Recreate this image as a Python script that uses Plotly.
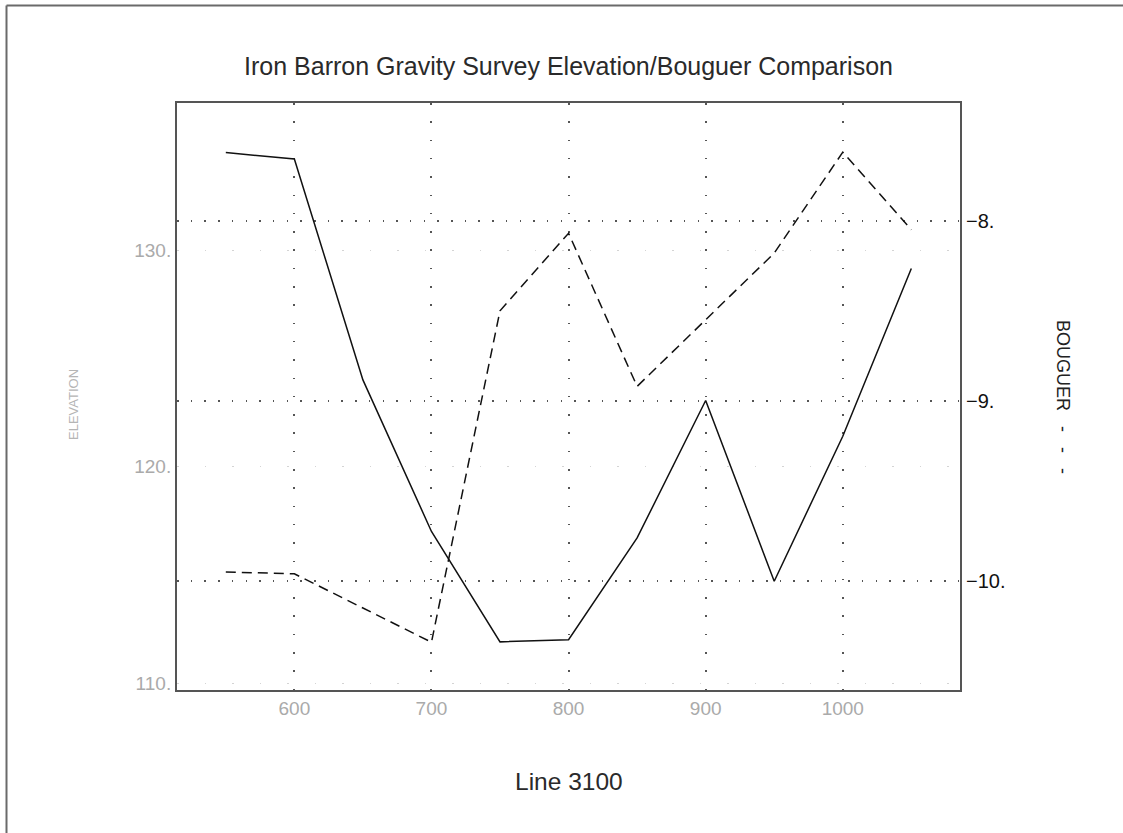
import plotly.graph_objects as go

# ---- data ----
line_pos = [550, 600, 650, 700, 750, 800, 850, 900, 950, 1000, 1050]
elevation = [134.5, 134.2, 124.0, 117.0, 111.9, 112.0, 116.7, 123.05, 114.7, 121.4, 129.15]
bouguer = [-9.95, -9.96, -10.15, -10.34, -8.50, -8.07, -8.92, -8.55, -8.18, -7.62, -8.05]

x_ticks = [600, 700, 800, 900, 1000]
x_ticklabels = ["600", "700", "800", "900", "1000"]
elev_ticks = [110, 120, 130]
elev_ticklabels = ["110.", "120.", "130."]
boug_ticks = [-10, -9, -8]
boug_ticklabels = ["\u221210.", "\u22129.", "\u22128."]

FONT = "Liberation Sans, Arial, sans-serif"
W, H = 1123, 833
ML, MR, MT, MB = 177, 163, 103, 143
PW, PH = W - ML - MR, H - MT - MB


def px2paper_x(px):
    return (px - ML) / PW


def px2paper_y(py):
    return (H - MB - py) / PH


fig = go.Figure()
fig.add_trace(go.Scatter(
    x=line_pos, y=elevation, mode="lines", name="ELEVATION",
    line=dict(color="#111111", width=1.5), yaxis="y",
))
fig.add_trace(go.Scatter(
    x=line_pos, y=bouguer, mode="lines", name="BOUGUER",
    line=dict(color="#111111", width=1.5, dash="10px,6px"), yaxis="y2",
))

fig.update_layout(
    width=W, height=H, autosize=False,
    margin=dict(l=ML, r=MR, t=MT, b=MB, pad=0),
    paper_bgcolor="white", plot_bgcolor="white",
    showlegend=False,
    font=dict(family=FONT, color="#222222"),
    title=dict(
        text="Iron Barron Gravity Survey Elevation/Bouguer Comparison",
        x=0.5, xref="paper", xanchor="center",
        y=1 - 66 / H, yref="container", yanchor="middle",
        font=dict(family=FONT, size=25, color="#2a2a2a"),
    ),
    xaxis=dict(
        range=[514.4, 1085.5],
        tickvals=x_ticks, ticktext=x_ticklabels,
        tickfont=dict(family=FONT, size=19, color="#aaaaaa"),
        ticks="", showline=True, linecolor="#555555", linewidth=2, mirror=True,
        showgrid=True, gridcolor="#555555", gridwidth=1.5, griddash="1.5px,16.8px",
        zeroline=False,
    ),
    yaxis=dict(
        range=[109.677, 136.79],
        tickvals=elev_ticks, ticktext=elev_ticklabels,
        tickfont=dict(family=FONT, size=19, color="#aaaaaa"),
        ticks="", showline=True, linecolor="#555555", linewidth=2, mirror=True,
        showgrid=True, gridcolor="#d4d4d4", gridwidth=1.2, griddash="1.5px,26px",
        zeroline=False,
    ),
    yaxis2=dict(
        range=[-10.605, -7.347], overlaying="y", side="right",
        tickvals=boug_ticks, ticktext=boug_ticklabels,
        tickfont=dict(family=FONT, size=20, color="#111111"),
        ticks="", showline=True, linecolor="#555555", linewidth=2,
        showgrid=True, gridcolor="#555555", gridwidth=1.5, griddash="1.5px,12.2px",
        zeroline=False,
    ),
    annotations=[
        dict(text="Line 3100", xref="paper", yref="paper",
             x=0.5, y=px2paper_y(781), xanchor="center", yanchor="middle",
             showarrow=False, font=dict(family=FONT, size=24.5, color="#2a2a2a")),
        dict(text="ELEVATION", xref="paper", yref="paper",
             x=px2paper_x(73), y=px2paper_y(405), xanchor="center", yanchor="middle",
             textangle=-90, showarrow=False,
             font=dict(family=FONT, size=13, color="#b5b5b5")),
        dict(text="BOUGUER\u00a0\u00a0\u00a0-\u00a0\u00a0\u00a0-\u00a0\u00a0\u00a0-",
             xref="paper", yref="paper",
             x=px2paper_x(1063), y=px2paper_y(397), xanchor="center", yanchor="middle",
             textangle=90, showarrow=False,
             font=dict(family=FONT, size=18, color="#222222")),
    ],
    shapes=[
        dict(type="line", xref="paper", yref="paper",
             x0=px2paper_x(6.5), y0=px2paper_y(5.5), x1=px2paper_x(W + 5), y1=px2paper_y(5.5),
             line=dict(color="#6a6a6a", width=2)),
        dict(type="line", xref="paper", yref="paper",
             x0=px2paper_x(6.5), y0=px2paper_y(5.5), x1=px2paper_x(6.5), y1=px2paper_y(H + 5),
             line=dict(color="#6a6a6a", width=2)),
    ],
)

fig.write_html(
    "out.html",
    config={"displayModeBar": False},
    post_script="document.body.style.margin='0';document.body.style.overflow='hidden';",
)
